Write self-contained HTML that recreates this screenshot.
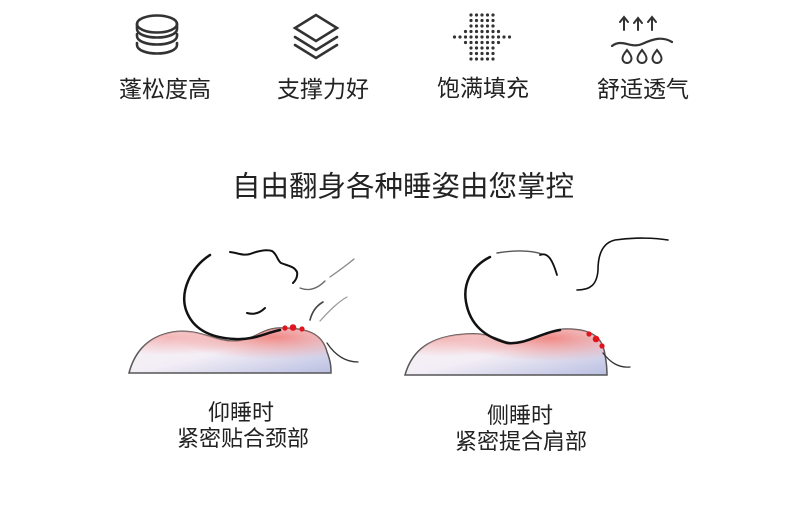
<!DOCTYPE html>
<html><head><meta charset="utf-8"><style>
html,body{margin:0;padding:0;background:#fff;}
body{width:790px;height:520px;position:relative;overflow:hidden;font-family:"Liberation Sans","Noto Sans CJK SC",sans-serif;color:#222;}
.t{position:absolute;white-space:nowrap;transform:translateX(-50%);line-height:1;}
</style></head><body>
<svg width="790" height="520" style="position:absolute;left:0;top:0">
<defs>
<radialGradient id="r1" cx="0.72" cy="0.2" r="0.5"><stop offset="0" stop-color="#ef8480" stop-opacity="0.95"/><stop offset="1" stop-color="#ef8d8a" stop-opacity="0"/></radialGradient>
<radialGradient id="r2" cx="0.2" cy="0.2" r="0.4"><stop offset="0" stop-color="#f3a9a8" stop-opacity="0.8"/><stop offset="1" stop-color="#f3a9a8" stop-opacity="0"/></radialGradient>
<linearGradient id="b" x1="0" y1="0" x2="1" y2="1"><stop offset="0" stop-color="#f8eef2"/><stop offset="0.5" stop-color="#f3eef6"/><stop offset="1" stop-color="#b9bfe2"/></linearGradient>
</defs>
<g fill="none" stroke="#333" stroke-width="2.6" stroke-linecap="round">
<!-- icon1 -->
<ellipse cx="157" cy="24" rx="20" ry="8.5"/>
<path d="M137 24v5c0 5 9 8.5 20 8.5s20-3.5 20-8.5v-5M137 36c0 5 9 8.5 20 8.5s20-3.5 20-8.5M137 45c0 5 9 8.5 20 8.5s20-3.5 20-8.5M137 34v2M177 34v2M137 43v2M177 43v2"/>
<!-- icon2 -->
<path d="M316 15l-21 13 21 13 21-13z"/>
<path d="M295 37l21 13 21-13M295 45l21 13 21-13"/>
<!-- icon4 -->
<path d="M612 46c10-8 19 3 30-2s20-8 30-2" stroke-width="2.2"/>
<path d="M624 18v12M620 22l4-5 4 5M638 19v11M634 23l4-5 4 5M652 18v12M648 22l4-5 4 5" stroke-width="2"/>
<path d="M627 50c-3 4-4.5 6-4.5 8.5a4.5 4.5 0 0 0 9 0c0-2.5-1.5-4.5-4.5-8.5zM642 50c-3 4-4.5 6-4.5 8.5a4.5 4.5 0 0 0 9 0c0-2.5-1.5-4.5-4.5-8.5zM657 50c-3 4-4.5 6-4.5 8.5a4.5 4.5 0 0 0 9 0c0-2.5-1.5-4.5-4.5-8.5z" stroke-width="2"/>
</g>
<g fill="#333">
<g id="d">
<circle cx="471" cy="15" r="1.6"/><circle cx="476.5" cy="15" r="1.6"/><circle cx="482" cy="15" r="1.6"/><circle cx="487.5" cy="15" r="1.6"/><circle cx="493" cy="15" r="1.6"/>
</g>
<use href="#d" y="5.5"/><use href="#d" y="11"/><use href="#d" y="16.5"/><use href="#d" y="22"/><use href="#d" y="27.5"/><use href="#d" y="33"/><use href="#d" y="38.5"/><use href="#d" y="44"/>
<circle cx="465.5" cy="31.5" r="1.6"/><circle cx="465.5" cy="37" r="1.6"/><circle cx="465.5" cy="42.5" r="1.6"/><circle cx="460" cy="37" r="1.6"/><circle cx="454.5" cy="37" r="1.6"/>
<circle cx="498.5" cy="31.5" r="1.6"/><circle cx="498.5" cy="37" r="1.6"/><circle cx="498.5" cy="42.5" r="1.6"/><circle cx="504" cy="37" r="1.6"/><circle cx="509.5" cy="37" r="1.6"/>
</g>

<path d="M129 373C135 350 150 336 173 332C200 328 215 342 235 341C255 340 262 328 280 328C305 328 322 332 327 352C331 362 331 368 331 373Z" fill="url(#b)" stroke="#555" stroke-width="1.5"/>
<path d="M129 373C135 350 150 336 173 332C200 328 215 342 235 341C255 340 262 328 280 328C305 328 322 332 327 352C331 362 331 368 331 373Z" fill="url(#r1)"/>
<path d="M129 373C135 350 150 336 173 332C200 328 215 342 235 341C255 340 262 328 280 328C305 328 322 332 327 352C331 362 331 368 331 373Z" fill="url(#r2)"/>
<path d="M405 375C412 350 430 336 467 334C495 332 500 344 517 343C535 342 545 329 567 329C595 329 603 340 605 355C607 365 607 370 607 375Z" fill="url(#b)" stroke="#555" stroke-width="1.5"/>
<path d="M405 375C412 350 430 336 467 334C495 332 500 344 517 343C535 342 545 329 567 329C595 329 603 340 605 355C607 365 607 370 607 375Z" fill="url(#r1)"/>
<path d="M405 375C412 350 430 336 467 334C495 332 500 344 517 343C535 342 545 329 567 329C595 329 603 340 605 355C607 365 607 370 607 375Z" fill="url(#r2)"/>

<g fill="none" stroke="#111" stroke-linecap="round">
<path d="M210 255C190 268 180 292 186 310C193 330 212 338 235 339C255 340 265 333 280 330" stroke-width="2.5"/>
<path d="M230 252C238 253 243 256 250 254C258 251 266 249 272 251C277 254 277 260 281 263C288 266 294 266 297 272C298 277 295 281 293 283" stroke-width="2"/>
<path d="M247 313C254 315 260 313 265 308" stroke-width="2"/>
<path d="M300 288C310 292 318 288 325 281" stroke="#666" stroke-width="1.3"/>
<path d="M330 277C340 270 348 264 354 259" stroke="#888" stroke-width="1.3"/>
<path d="M310 320C312 312 316 306 323 302" stroke="#444" stroke-width="1.6"/>
<path d="M320 321C330 310 338 302 347 297" stroke="#999" stroke-width="1.2"/>
<path d="M327 343C335 355 345 362 358 362" stroke="#333" stroke-width="1.3"/>
<path d="M490 257C470 267 463 285 466 302C470 325 485 337 507 343C525 345 540 333 560 330" stroke-width="2.5"/>
<path d="M497 253C515 250 530 250 542 254" stroke="#555" stroke-width="1.4"/>
<path d="M540 255C547 252 552 258 557 275" stroke-width="1.8"/>
<path d="M577 290C590 290 597 285 598 270C598 255 602 243 615 240C635 237 655 238 668 240" stroke-width="1.6"/>
<path d="M603 353C610 362 618 368 630 367" stroke="#333" stroke-width="1.3"/>
</g>
<g fill="#e0141e">
<circle cx="285" cy="328" r="2.6"/><circle cx="293" cy="327.5" r="3.3"/><circle cx="302" cy="329" r="2.6"/>
<circle cx="589" cy="334" r="2.6"/><circle cx="596" cy="339" r="3.3"/><circle cx="602" cy="346" r="2.6"/>
</g>
</svg>
<div class="t" style="left:165px;top:78px;font-size:23px">蓬松度高</div>
<div class="t" style="left:323px;top:78px;font-size:23px">支撑力好</div>
<div class="t" style="left:483px;top:77px;font-size:23px">饱满填充</div>
<div class="t" style="left:643px;top:78px;font-size:23px">舒适透气</div>
<div class="t" style="left:403px;top:173px;font-size:28.5px">自由翻身各种睡姿由您掌控</div>
<div class="t" style="left:241px;top:402px;font-size:22px">仰睡时</div>
<div class="t" style="left:243px;top:428px;font-size:22px">紧密贴合颈部</div>
<div class="t" style="left:520px;top:405px;font-size:22px">侧睡时</div>
<div class="t" style="left:521px;top:431px;font-size:22px">紧密提合肩部</div>
</body></html>
